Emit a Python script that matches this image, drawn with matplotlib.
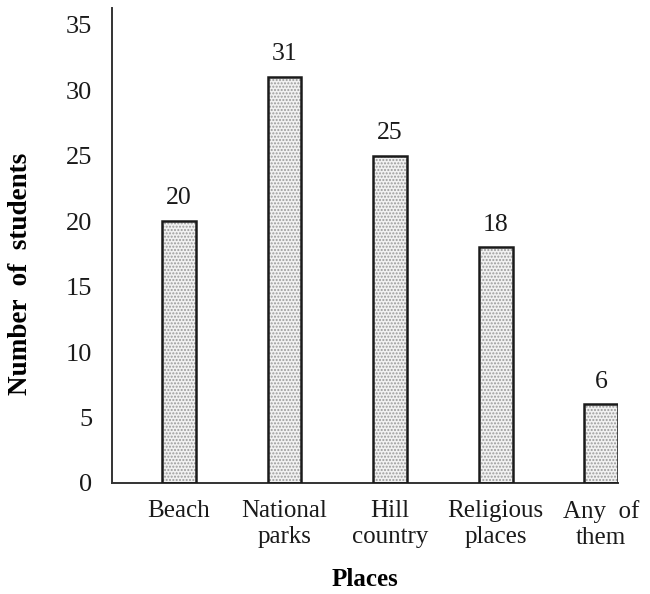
import numpy as np
from matplotlib import pyplot as plt

places = ["Beach", "National\nparks", "Hill\ncountry", "Religious\nplaces", "Any  of\nthem"]
students = [20, 31, 25, 18, 6]
yticks = [0, 5, 10, 15, 20, 25, 30, 35]

plt.rcParams['font.family'] = ['Liberation Serif', 'DejaVu Serif']

fig = plt.figure(figsize=(6.5, 5.94), dpi=100)
ax = fig.add_axes([0.172, 0.187, 0.779, 0.8])

x = np.arange(len(places))
w = 0.32
# speckled fill, then black outline on top
ax.bar(x, students, width=w, color='#f1f1f1', edgecolor='#9a9a9a', hatch='.....', linewidth=0, zorder=2)
ax.bar(x, students, width=w, fill=False, edgecolor='#1a1a1a', linewidth=1.8, zorder=3)

for xi, v in zip(x, students):
    ax.text(xi, v + 0.9, str(v), ha='center', va='bottom', fontsize=18.5, color='#1a1a1a')

ax.set_xlim(-0.635, 4.16)
ax.set_ylim(0, 36.3)
ax.set_yticks(yticks)
ax.set_xticks(x)
ax.set_xticklabels(places, fontsize=18, linespacing=1.25)
ax.tick_params(axis='y', length=0, pad=14, labelsize=19, colors='#1a1a1a')
ax.tick_params(axis='x', length=0, pad=12, colors='#1a1a1a')

ax.spines['top'].set_visible(False)
ax.spines['right'].set_visible(False)
ax.spines['left'].set_linewidth(1.4)
ax.spines['bottom'].set_linewidth(1.4)
ax.spines['left'].set_color('#333333')
ax.spines['bottom'].set_color('#333333')

ax.set_ylabel("Number  of  students", fontsize=19.5, fontweight='bold')
ax.yaxis.set_label_coords(-0.156, 0.44)
ax.set_xlabel("Places", fontsize=18, fontweight='bold', labelpad=14)

plt.savefig("out.png", dpi=100)
